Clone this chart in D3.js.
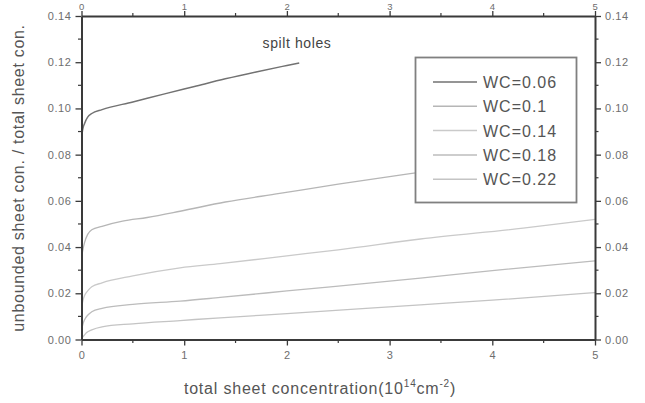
<!DOCTYPE html>
<html>
<head>
<meta charset="utf-8">
<script src="https://cdn.jsdelivr.net/npm/d3@7"></script>
<style>
  html, body { margin: 0; padding: 0; background: #fff; }
  svg { display: block; }
  text { font-family: "Liberation Sans", Arial, sans-serif; }
</style>
</head>
<body>
<svg id="chart" width="645" height="403"></svg>
<script>
// Unbounded / total sheet concentration vs total sheet concentration (spilt holes)
const seriesLabels = ["WC=0.06", "WC=0.1", "WC=0.14", "WC=0.18", "WC=0.22"];
const seriesColors = ["#727272", "#b6b6b6", "#cacaca", "#bcbcbc", "#c4c4c4"];

const conc06  = [0, 0.01, 0.03, 0.06, 0.1, 0.2, 0.5, 0.8, 1.1, 1.4, 1.7, 2.0, 2.12];
const ratio06 = [0.086, 0.0905, 0.0935, 0.0962, 0.0978, 0.0995, 0.1028, 0.1062, 0.1095, 0.1128, 0.1158, 0.1186, 0.1197];

const conc10  = [0, 0.01, 0.03, 0.06, 0.1, 0.2, 0.4, 0.64, 0.96, 1.4, 1.93, 2.5, 3.2, 3.6];
const ratio10 = [0.035, 0.038, 0.042, 0.0455, 0.0475, 0.049, 0.0512, 0.0528, 0.0555, 0.0595, 0.0632, 0.0672, 0.0718, 0.0742];

const conc14  = [0, 0.01, 0.03, 0.06, 0.1, 0.2, 0.5, 0.96, 1.35, 2.0, 2.5, 3.3, 4.3, 5];
const ratio14 = [0.012, 0.016, 0.019, 0.021, 0.0228, 0.0245, 0.0275, 0.031, 0.0328, 0.0362, 0.0388, 0.0435, 0.0482, 0.052];

const conc18  = [0, 0.01, 0.03, 0.06, 0.1, 0.2, 0.5, 0.96, 1.35, 2.0, 3.3, 4.0, 5];
const ratio18 = [0.003, 0.006, 0.0085, 0.0105, 0.012, 0.0135, 0.0152, 0.0166, 0.0182, 0.021, 0.0266, 0.0298, 0.034];

const conc22  = [0, 0.02, 0.05, 0.1, 0.2, 0.5, 0.96, 1.35, 2.0, 3.3, 4.0, 5];
const ratio22 = [0.0005, 0.0015, 0.003, 0.0042, 0.0055, 0.0068, 0.0082, 0.0094, 0.0112, 0.015, 0.017, 0.0203];

const xTicks = [0, 1, 2, 3, 4, 5];
const yTicks = [0, 0.02, 0.04, 0.06, 0.08, 0.10, 0.12, 0.14];

const seriesX = [conc06, conc10, conc14, conc18, conc22];
const seriesY = [ratio06, ratio10, ratio14, ratio18, ratio22];

const svg = d3.select("#chart");
const plot = { left: 81.5, right: 595, top: 16, bottom: 339.5 };

const x = d3.scaleLinear().domain([0, 5]).range([plot.left, plot.right]);
const y = d3.scaleLinear().domain([0, 0.14]).range([plot.bottom, plot.top]);

const axisColor = "#3a3a3a";
const labelColor = "#6e6e6e";

// curves, clipped to the frame
svg.append("clipPath").attr("id", "plotClip")
  .append("rect")
  .attr("x", plot.left).attr("y", plot.top)
  .attr("width", plot.right - plot.left).attr("height", plot.bottom - plot.top);

const line = d3.line()
  .x(d => x(d[0])).y(d => y(d[1]))
  .curve(d3.curveMonotoneX);

const curves = svg.append("g").attr("clip-path", "url(#plotClip)");
seriesLabels.forEach((name, i) => {
  const pts = seriesX[i].map((v, k) => [v, seriesY[i][k]]);
  curves.append("path")
    .datum(pts)
    .attr("d", line)
    .attr("fill", "none")
    .attr("stroke", seriesColors[i])
    .attr("stroke-width", i === 0 ? 1.5 : 1.3);
});

// axes on all four sides
function styleAxis(g) {
  g.select(".domain").attr("stroke", axisColor).attr("stroke-width", 2);
  g.selectAll(".tick line").attr("stroke", axisColor).attr("stroke-width", 1.3);
  g.selectAll(".tick text")
    .attr("fill", labelColor)
    .style("font-size", "11px")
    .style("letter-spacing", "0.6px");
}

function minorTicks(g, positions, orient, len) {
  positions.forEach(p => {
    const l = g.append("line").attr("stroke", axisColor).attr("stroke-width", 1.2);
    if (orient === "left")   l.attr("x1", plot.left).attr("x2", plot.left - len).attr("y1", p).attr("y2", p);
    if (orient === "right")  l.attr("x1", plot.right).attr("x2", plot.right + len).attr("y1", p).attr("y2", p);
    if (orient === "bottom") l.attr("x1", p).attr("x2", p).attr("y1", plot.bottom).attr("y2", plot.bottom + len);
    if (orient === "top")    l.attr("x1", p).attr("x2", p).attr("y1", plot.top).attr("y2", plot.top - len);
  });
}

const xMinor = d3.range(0.5, 5, 1).map(x);
const yMinor = d3.range(0.01, 0.14, 0.02).map(y);

const yFmt = d3.format(".2f");

const gLeft = svg.append("g").attr("transform", `translate(${plot.left},0)`)
  .call(d3.axisLeft(y).tickValues(yTicks).tickFormat(yFmt).tickSize(6).tickPadding(4).tickSizeOuter(0));
styleAxis(gLeft);
minorTicks(svg.append("g"), yMinor, "left", 3.5);

const gRight = svg.append("g").attr("transform", `translate(${plot.right},0)`)
  .call(d3.axisRight(y).tickValues(yTicks).tickFormat(yFmt).tickSize(6).tickPadding(4).tickSizeOuter(0));
styleAxis(gRight);
minorTicks(svg.append("g"), yMinor, "right", 3.5);

const gBottom = svg.append("g").attr("transform", `translate(0,${plot.bottom})`)
  .call(d3.axisBottom(x).tickValues(xTicks).tickFormat(d3.format("d")).tickSize(6).tickPadding(6).tickSizeOuter(0));
styleAxis(gBottom);
minorTicks(svg.append("g"), xMinor, "bottom", 3.5);

// top axis: labels sit tight against the short ticks so they fit above the frame
const gTop = svg.append("g").attr("transform", `translate(0,${plot.top})`)
  .call(d3.axisTop(x).tickValues(xTicks).tickFormat(d3.format("d")).tickSize(5).tickPadding(0).tickSizeOuter(0));
styleAxis(gTop);
gTop.selectAll(".tick text").attr("dy", "0").attr("y", -6.5).style("font-size", "9.5px");
minorTicks(svg.append("g"), xMinor, "top", 3);

// annotation
svg.append("text")
  .attr("x", 297).attr("y", 48)
  .attr("text-anchor", "middle")
  .attr("fill", "#444")
  .style("font-size", "14px")
  .style("letter-spacing", "0.6px")
  .text("spilt holes");

// legend
const legend = svg.append("g");
legend.append("rect")
  .attr("x", 415.5).attr("y", 57.5)
  .attr("width", 161).attr("height", 145)
  .attr("fill", "#fff")
  .attr("stroke", "#808080")
  .attr("stroke-width", 1.8);

seriesLabels.forEach((name, i) => {
  const cy = 82 + i * 24.3;
  legend.append("line")
    .attr("x1", 433).attr("x2", 477)
    .attr("y1", cy).attr("y2", cy)
    .attr("stroke", seriesColors[i])
    .attr("stroke-width", 1.5);
  legend.append("text")
    .attr("x", 483).attr("y", cy + 6)
    .attr("fill", "#555")
    .style("font-size", "16px")
    .style("letter-spacing", "1px")
    .text(name);
});

// axis titles
svg.append("text")
  .attr("transform", `translate(24,178) rotate(-90)`)
  .attr("text-anchor", "middle")
  .attr("fill", "#555")
  .style("font-size", "16px")
  .style("letter-spacing", "0.7px")
  .text("unbounded sheet con. / total sheet con.");

const xTitle = svg.append("text")
  .attr("x", 320).attr("y", 394)
  .attr("text-anchor", "middle")
  .attr("fill", "#555")
  .style("font-size", "16px")
  .style("letter-spacing", "0.8px");
xTitle.append("tspan").text("total sheet concentration(10");
xTitle.append("tspan").attr("dy", -7).style("font-size", "10px").text("14");
xTitle.append("tspan").attr("dy", 7).text("cm");
xTitle.append("tspan").attr("dy", -7).style("font-size", "10px").text("-2");
xTitle.append("tspan").attr("dy", 7).text(")");
</script>
</body>
</html>
